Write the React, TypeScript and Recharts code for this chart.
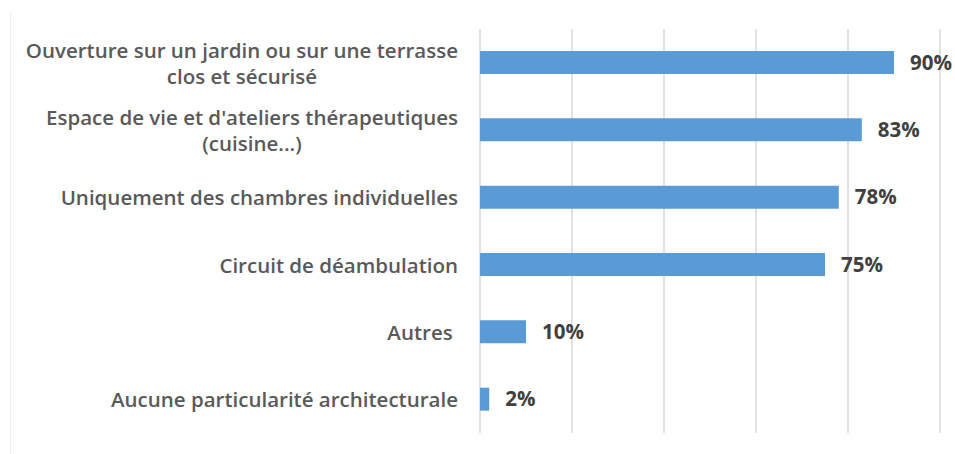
import React from 'react';
import { BarChart, Bar, XAxis, YAxis, CartesianGrid, LabelList } from 'recharts';

const categories = [
  ['Ouverture sur un jardin ou sur une terrasse', 'clos et sécurisé'],
  ["Espace de vie et d'ateliers thérapeutiques", '(cuisine...)'],
  ['Uniquement des chambres individuelles'],
  ['Circuit de déambulation'],
  ['Autres\u00a0'],
  ['Aucune particularité architecturale'],
];
const values = [90, 83, 78, 75, 10, 2];
const xTicks = [0, 20, 40, 60, 80, 100];

const data = categories.map((lines, i) => ({ name: lines.join(' '), lines, value: values[i] }));

const FONT = '"Open Sans", "Noto Sans", sans-serif';
const FONT_SIZE = 20.5;
const LINE_H = 26;

let ctx: CanvasRenderingContext2D | null = null;
const measure = (s: string) => {
  if (!ctx) ctx = document.createElement('canvas').getContext('2d');
  if (!ctx) return s.length * 10;
  ctx.font = `600 ${FONT_SIZE}px "Open Sans"`;
  return ctx.measureText(s).width;
};

// category label: single lines right-aligned, wrapped ones centered on their widest line
const CategoryTick = (props: any) => {
  const { x, y, payload } = props;
  const row = data.find((d) => d.name === payload.value);
  const lines = row ? row.lines : [payload.value];
  const widest = Math.max(...lines.map(measure));
  const cx = x - widest / 2;
  const top = y - ((lines.length - 1) * LINE_H) / 2;
  return (
    <text
      x={cx}
      y={top}
      textAnchor="middle"
      dominantBaseline="central"
      fill="#595959"
      fontFamily={FONT}
      fontSize={FONT_SIZE}
      fontWeight={600}
      style={{ whiteSpace: 'pre' }}
    >
      {lines.map((l: string, i: number) => (
        <tspan key={i} x={cx} y={top + i * LINE_H}>
          {l}
        </tspan>
      ))}
    </text>
  );
};

export default function App() {
  return (
    <div style={{ position: 'absolute', left: 0, top: 0, width: 955, height: 454, background: '#fff' }}>
      <div style={{ position: 'absolute', left: 10, top: 13, width: 1, height: 441, background: '#eeeeee' }} />
      <BarChart
        width={955}
        height={454}
        data={data}
        layout="vertical"
        margin={{ top: 29, right: 15, bottom: 21, left: 0 }}
        barCategoryGap={0}
      >
        <CartesianGrid horizontal={false} stroke="#d9d9d9" strokeWidth={1.5} />
        <XAxis type="number" domain={[0, 100]} ticks={xTicks} hide />
        <YAxis
          type="category"
          dataKey="name"
          width={480}
          axisLine={false}
          tickLine={false}
          tickSize={0}
          tickMargin={22}
          interval={0}
          tick={<CategoryTick />}
        />
        <Bar dataKey="value" fill="#5b9bd5" barSize={23} isAnimationActive={false}>
          <LabelList
            dataKey="value"
            position="right"
            offset={16}
            formatter={(v: any) => `${v}%`}
            fill="#404040"
            fontFamily={FONT}
            fontSize={FONT_SIZE}
            fontWeight={700}
          />
        </Bar>
      </BarChart>
    </div>
  );
}
